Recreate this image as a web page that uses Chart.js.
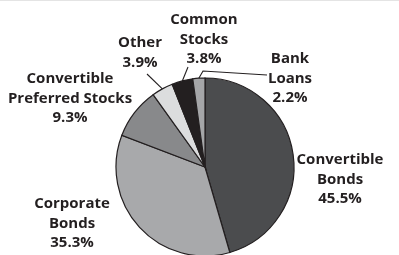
<!DOCTYPE html>
<html>
<head>
<meta charset="utf-8">
<script src="https://cdn.jsdelivr.net/npm/chart.js@4/dist/chart.umd.min.js"></script>
<style>
  html, body { margin: 0; padding: 0; background: #fff; }
  body { width: 399px; height: 255px; overflow: hidden; position: relative; }
  #garisAtas { position: absolute; left: 0; top: 0; width: 399px; height: 1px; background: #e4e4e4; z-index: 2; }
  #wadah { position: absolute; left: 0; top: 0; width: 399px; height: 255px; }
</style>
</head>
<body>
<div id="garisAtas"></div>
<div id="wadah"><canvas id="grafikPie"></canvas></div>
<script>
// data porsi aset (searah jarum jam mulai dari jam 12)
const kategori = ["Convertible Bonds", "Corporate Bonds", "Convertible Preferred Stocks", "Other", "Common Stocks", "Bank Loans"];
const nilaiPersen = [45.5, 35.3, 9.3, 3.9, 3.8, 2.2];
const teksLabel = [
  ["Convertible", "Bonds", "45.5%"],
  ["Corporate", "Bonds", "35.3%"],
  ["Convertible", "Preferred Stocks", "9.3%"],
  ["Other", "3.9%"],
  ["Common", "Stocks", "3.8%"],
  ["Bank", "Loans", "2.2%"]
];
const warnaIrisan = ["#4b4c4e", "#a8a9ab", "#88898b", "#dcddde", "#231f20", "#a5a6a8"];

// posisi teks label, relatif ke pusat pie (tengah baris pertama)
const posisiLabel = [
  [135, -7], [-133, 37], [-135, -88], [-65, -124], [-1, -147], [85, -108]
];
// ujung garis penunjuk (relatif pusat), null = tanpa garis
const garisPenunjuk = [
  null, null, null,
  [[-58, -93]],
  [[-17, -100]],
  [[-2, -96], [62, -92]]
];

const pluginLabel = {
  id: "labelPie",
  afterDraw(chart) {
    const ctx = chart.ctx;
    const arcs = chart.getDatasetMeta(0).data;
    const cx = arcs[0].x, cy = arcs[0].y;
    ctx.save();
    // garis penunjuk
    ctx.strokeStyle = "#231f20";
    ctx.lineWidth = 1.1;
    arcs.forEach((arc, i) => {
      if (!garisPenunjuk[i]) return;
      const tengah = (arc.startAngle + arc.endAngle) / 2;
      ctx.beginPath();
      ctx.moveTo(cx + Math.cos(tengah) * arc.outerRadius, cy + Math.sin(tengah) * arc.outerRadius);
      garisPenunjuk[i].forEach(p => ctx.lineTo(cx + p[0], cy + p[1]));
      ctx.stroke();
    });
    // teks
    ctx.fillStyle = "#231f20";
    ctx.font = "bold 15px 'Open Sans', sans-serif";
    ctx.textAlign = "center";
    ctx.textBaseline = "middle";
    teksLabel.forEach((baris, i) => {
      baris.forEach((t, j) => {
        ctx.fillText(t, cx + posisiLabel[i][0], cy + posisiLabel[i][1] + j * 19.5);
      });
    });
    ctx.restore();
  }
};

new Chart(document.getElementById("grafikPie"), {
  type: "pie",
  data: {
    labels: kategori,
    datasets: [{
      data: nilaiPersen,
      backgroundColor: warnaIrisan,
      borderColor: "#231f20",
      borderWidth: 1.2,
      borderJoinStyle: "miter"
    }]
  },
  options: {
    responsive: true,
    maintainAspectRatio: false,
    animation: false,
    radius: 89,
    layout: { padding: { left: 11, right: 0, top: 79, bottom: 0 } },
    plugins: { legend: { display: false }, tooltip: { enabled: false } }
  },
  plugins: [pluginLabel]
});
</script>
</body>
</html>
